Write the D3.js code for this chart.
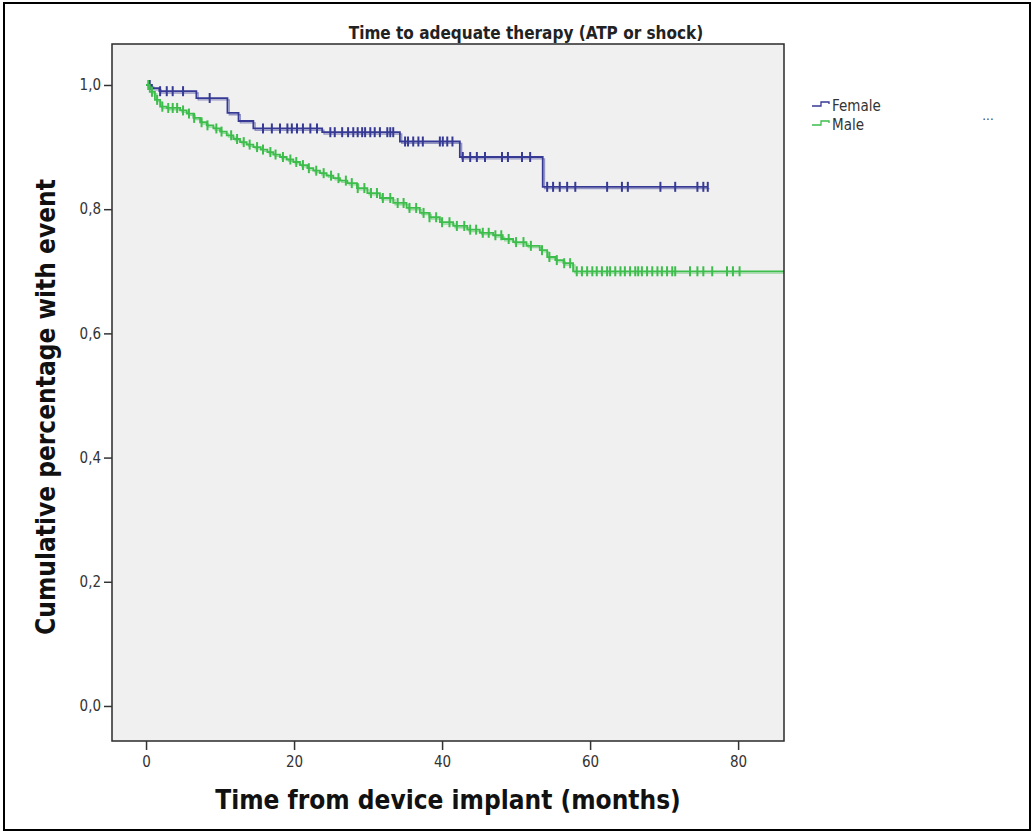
<!DOCTYPE html>
<html><head><meta charset="utf-8">
<script src="https://cdn.jsdelivr.net/npm/d3@7"></script>
<style>html,body{margin:0;padding:0;background:#fff;}svg{display:block;}</style>
</head><body>
<svg id="chart" width="1034" height="834"></svg>
<script>
// ---- data ----
const titleText = "Time to adequate therapy (ATP or shock)";
const xTitle = "Time from device implant (months)";
const yTitle = "Cumulative percentage with event";
const xTicks = [0, 20, 40, 60, 80];
const yTicks = [0, 0.2, 0.4, 0.6, 0.8, 1.0];
const seriesNames = ["Female", "Male"];

const femaleTimes = [0, 0.8, 1.8, 6.8, 11.0, 12.5, 14.5, 23.8, 34.3, 42.4, 53.6, 75.9];
const femaleSurv  = [1.0, 0.995, 0.990, 0.979, 0.955, 0.942, 0.930, 0.924, 0.909, 0.884, 0.836, 0.836];
const femaleCensor = [0.5, 1.9, 2.8, 3.6, 5.0, 8.6, 15.8, 17.0, 18.1, 19.1, 19.7, 20.4, 21.2, 22.2, 23.1,
  24.9, 25.5, 26.5, 27.3, 28.0, 28.6, 29.2, 29.6, 30.3, 30.9, 31.6, 32.6, 33.0, 33.4,
  35.0, 35.4, 36.1, 36.8, 37.4, 39.7, 40.1, 40.7, 41.4,
  42.8, 43.8, 44.7, 45.8, 48.1, 48.9, 50.8, 51.9,
  54.2, 55.0, 55.9, 56.9, 58.0, 62.3, 64.3, 65.1, 69.5, 71.5, 74.5, 75.3, 75.9];

const maleTimes = [0, 0.5, 1.2, 1.9, 2.8, 4.6, 5.5, 6.4, 7.3, 8.2, 9.1, 10.0, 10.9, 11.8, 12.7, 13.6, 14.5, 15.5,
  16.4, 17.2, 18.1, 19.0, 19.9, 20.8, 21.8, 22.6, 23.5, 24.4, 25.3, 26.2, 27.2, 28.5, 29.9, 31.6, 33.4, 35.2,
  37.0, 38.3, 39.7, 41.5, 43.4, 45.1, 46.9, 48.2, 49.6, 51.4, 53.2, 54.2, 55.3, 56.4, 57.7, 86.5];
const maleSurv = [1.0, 0.989, 0.976, 0.965, 0.963, 0.959, 0.954, 0.947, 0.940, 0.935, 0.930, 0.925, 0.919, 0.913,
  0.908, 0.904, 0.900, 0.896, 0.892, 0.888, 0.884, 0.880, 0.876, 0.871, 0.866, 0.862, 0.858, 0.854, 0.850, 0.846,
  0.842, 0.834, 0.826, 0.818, 0.810, 0.802, 0.794, 0.787, 0.779, 0.773, 0.767, 0.762, 0.758, 0.752, 0.747, 0.741,
  0.734, 0.723, 0.718, 0.713, 0.700, 0.700];
const maleCensor = [0.3, 0.8, 1.5, 2.2, 3.0, 3.6, 4.2, 5.0, 5.8, 6.5, 7.5, 8.3, 9.5, 10.2, 11.5, 12.3, 13.2, 14.0,
  15.0, 15.8, 16.8, 17.5, 18.5, 19.5, 20.3, 21.2, 22.0, 23.0, 24.0, 25.0, 26.0, 27.0, 27.8, 28.6, 29.5, 30.4,
  31.2, 32.0, 33.0, 34.0, 34.8, 35.6, 36.5, 37.5, 38.3, 39.2, 40.0, 41.0, 42.0, 43.0, 43.8, 44.6, 45.5, 46.3,
  47.2, 48.0, 49.0, 50.0, 51.0, 52.0, 53.5, 54.5, 55.5, 56.5, 57.3,
  58.2, 58.9, 59.6, 60.3, 60.9, 61.6, 62.3, 62.7, 63.4, 64.1, 64.7, 65.4, 66.1, 66.5, 67.0, 67.7, 68.4, 69.1,
  69.7, 70.4, 71.1, 71.5, 73.5, 74.5, 75.3, 76.5, 78.5, 79.3, 80.2];

const colors = ["#363a94", "#3dbd4b"];

// ---- layout ----
const FONT = "DejaVu Sans Condensed, DejaVu Sans";
const svg = d3.select("#chart");
const plot = {left: 112, top: 44, right: 784, bottom: 741};
const x = d3.scaleLinear().domain([-4.6, 86.2]).range([plot.left, plot.right]);
const y = d3.scaleLinear().domain([-0.0564, 1.066]).range([plot.bottom, plot.top]);

// outer frame
svg.append("rect").attr("x", 4).attr("y", 3).attr("width", 1026).attr("height", 827)
  .attr("fill", "#fff").attr("stroke", "#000").attr("stroke-width", 2);

// plot background
svg.append("rect").attr("x", plot.left).attr("y", plot.top)
  .attr("width", plot.right - plot.left).attr("height", plot.bottom - plot.top)
  .attr("fill", "#f0f0f0").attr("stroke", "none");

svg.append("clipPath").attr("id", "pc").append("rect")
  .attr("x", plot.left).attr("y", plot.top).attr("width", plot.right - plot.left).attr("height", plot.bottom - plot.top);

const g = svg.append("g").attr("clip-path", "url(#pc)");

function makeSeries(times, surv) { return times.map((t, i) => ({t, s: surv[i]})); }
function survAt(times, surv, t) {
  const i = d3.bisectRight(times, t) - 1;
  return surv[Math.max(0, i)];
}
const line = d3.line().x(d => x(d.t)).y(d => y(d.s)).curve(d3.curveStepAfter);

const series = [
  {name: seriesNames[0], times: femaleTimes, surv: femaleSurv, cens: femaleCensor, color: colors[0]},
  {name: seriesNames[1], times: maleTimes, surv: maleSurv, cens: maleCensor, color: colors[1]}
];

series.forEach(sr => {
  const data = makeSeries(sr.times, sr.surv);
  g.append("path").datum(data).attr("d", line).attr("fill", "none")
    .attr("stroke", sr.color).attr("stroke-opacity", 0.5).attr("stroke-width", 1.3)
    .attr("transform", "translate(1.8,1.8)");
  g.append("path").datum(data).attr("d", line).attr("fill", "none")
    .attr("stroke", sr.color).attr("stroke-width", 1.8);
  g.selectAll(null).data(sr.cens).enter().append("line")
    .attr("x1", d => x(d)).attr("x2", d => x(d))
    .attr("y1", d => y(survAt(sr.times, sr.surv, d)) - 5)
    .attr("y2", d => y(survAt(sr.times, sr.surv, d)) + 5)
    .attr("stroke", sr.color).attr("stroke-width", 2);
});

// plot border
svg.append("rect").attr("x", plot.left).attr("y", plot.top)
  .attr("width", plot.right - plot.left).attr("height", plot.bottom - plot.top)
  .attr("fill", "none").attr("stroke", "#2a2a2a").attr("stroke-width", 1.5);

// axes
const fmt = d3.format(".1f");
const yAxis = d3.axisLeft(y).tickValues(yTicks).tickSize(8).tickPadding(3)
  .tickFormat(d => fmt(d).replace(".", ","));
const yg = svg.append("g").attr("transform", `translate(${plot.left},0)`).call(yAxis);
yg.select(".domain").remove();
yg.selectAll("line").attr("stroke", "#333").attr("stroke-width", 1.5);
yg.selectAll("text").attr("font-family", FONT).attr("font-size", 15).attr("fill", "#333");

const xAxis = d3.axisBottom(x).tickValues(xTicks).tickSize(9).tickPadding(6).tickFormat(d3.format("d"));
const xg = svg.append("g").attr("transform", `translate(0,${plot.bottom})`).call(xAxis);
xg.select(".domain").remove();
xg.selectAll("line").attr("stroke", "#333").attr("stroke-width", 1.5);
xg.selectAll("text").attr("font-family", FONT).attr("font-size", 15).attr("fill", "#333");

// titles
svg.append("text").attr("x", 526).attr("y", 39).attr("text-anchor", "middle")
  .attr("font-family", FONT).attr("font-weight", "bold").attr("font-size", 17)
  .attr("fill", "#222").text(titleText);

svg.append("text").attr("x", 448).attr("y", 809).attr("text-anchor", "middle")
  .attr("font-family", FONT).attr("font-weight", "bold").attr("font-size", 26)
  .attr("fill", "#111").text(xTitle);

svg.append("text").attr("transform", `translate(55,407) rotate(-90)`).attr("text-anchor", "middle")
  .attr("font-family", FONT).attr("font-weight", "bold").attr("font-size", 26)
  .attr("fill", "#111").text(yTitle);

// legend
const lg = svg.append("g");
series.forEach((sr, i) => {
  const yy = 106 + i * 19;
  lg.append("path").attr("d", `M812,${yy} H821 V${yy - 4} H829 V${yy - 2}`)
    .attr("fill", "none").attr("stroke", sr.color).attr("stroke-width", 1.3);
  lg.append("text").attr("x", 832).attr("y", yy + 5)
    .attr("font-family", FONT).attr("font-size", 15)
    .attr("fill", "#333").text(sr.name);
});
svg.append("text").attr("x", 988).attr("y", 120).attr("text-anchor", "middle")
  .attr("font-family", "DejaVu Sans").attr("font-size", 12).attr("fill", "#444").text("...");
</script>
</body></html>
